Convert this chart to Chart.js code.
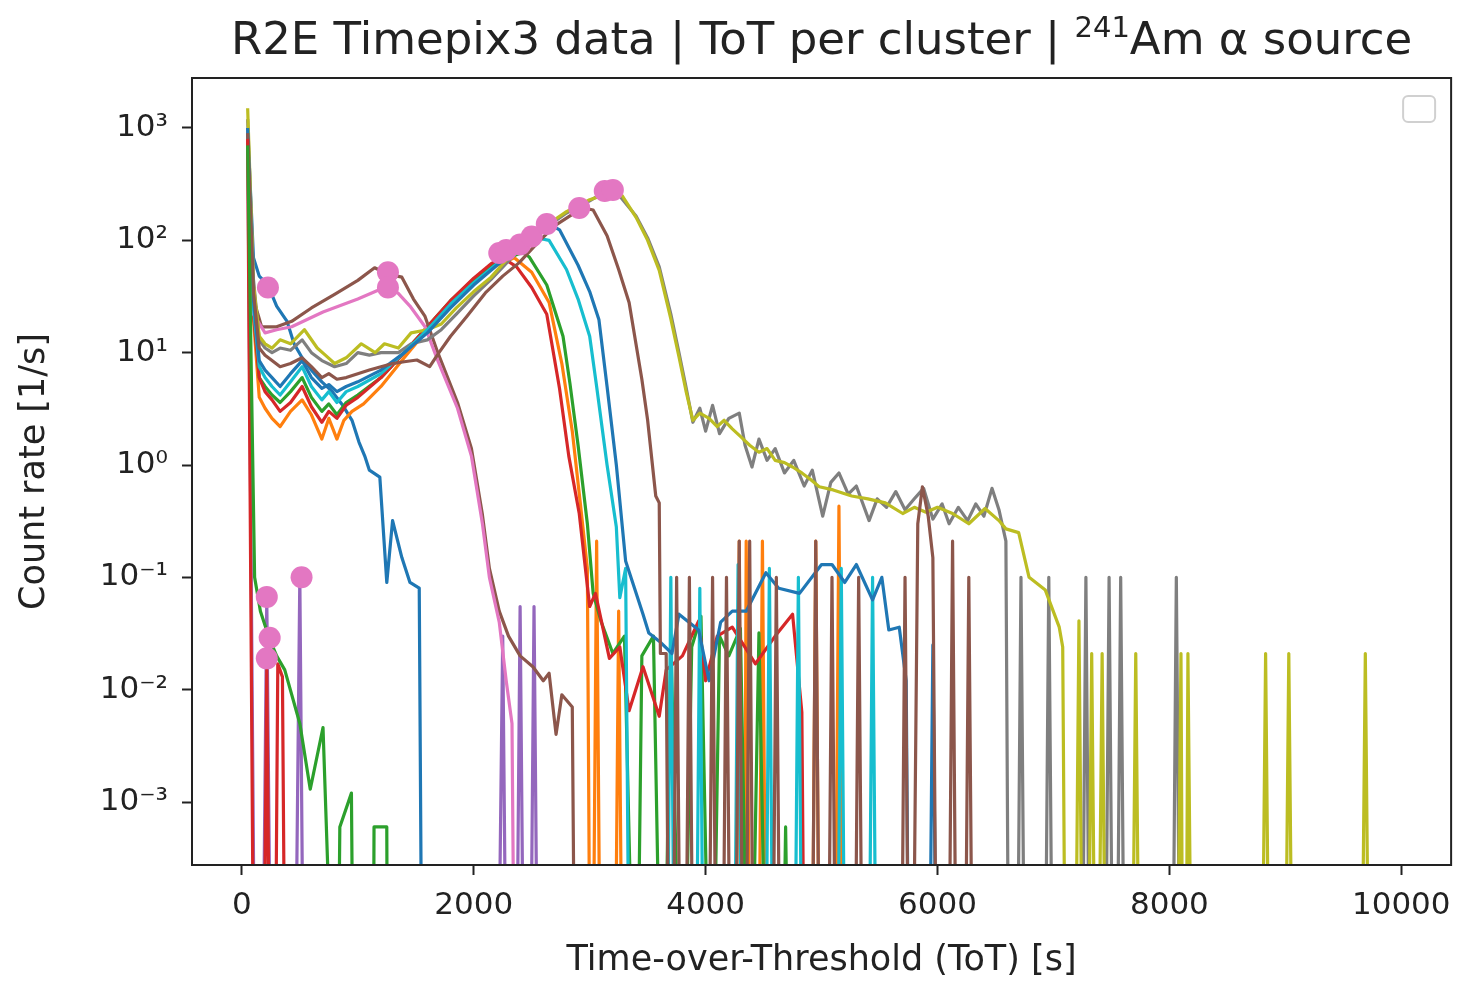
<!DOCTYPE html>
<html>
<head>
<meta charset="utf-8">
<script src="https://cdn.jsdelivr.net/npm/chart.js@4.4.1/dist/chart.umd.min.js"></script>
<style>
  html, body { margin: 0; padding: 0; background: #fff; }
  #wrap { width: 1463px; height: 982px; }
</style>
</head>
<body>
<div id="wrap"><canvas id="chart" width="1463" height="982"></canvas></div>
<script>
// ToT bins [s] -> count rate [1/s]; 0 = empty bin
const blueA = [[50,1000],[100,70],[150,48],[225,40],[300,26],[390,19],[450,12],[520,9],[600,7],[690,5.5],[780,4.5],[870,3.4],[950,2.5],[1010,1.6],[1060,1.2],[1100,0.9],[1190,0.78],[1250,0.09],[1300,0.32],[1380,0.15],[1450,0.09],[1530,0.08],[1560,0]];

const orange = [[50,900],[100,20],[150,4],[200,3.2],[260,2.6],[330,2.2],[420,3],[520,3.8],[600,2.8],[690,1.7],[750,2.6],[820,1.7],[880,2.5],[950,3],[1050,3.5],[1200,5],[1400,9],[1600,16],[1800,27],[2000,42],[2200,60],[2350,70],[2500,52],[2650,28],[2760,8],[2850,2],[2920,0.45],[2980,0.12],[3010,0]];
const orangeSpikeX = [3060, 3250, 4290, 4350, 4490, 4950, 5150];
const orangeSpikeY = [0.21, 0.05, 0.21, 0.21, 0.21, 0.21, 0.43];

const green = [[50,800],[100,25],[150,6],[200,5],[260,4.2],[330,3.6],[420,4.5],[520,6],[600,4],[690,3],[750,3.5],[820,2.8],[900,3.6],[1000,4.2],[1200,6],[1400,10],[1600,17],[1800,29],[2000,45],[2200,64],[2420,78],[2480,71],[2630,40],[2770,14],[2830,5.3],[2900,1.5],[2980,0.3],[3030,0.072],[3100,0.04],[3200,0.021],[3300,0.03],[3400,0],[3450,0.02],[3550,0.03],[3630,0],[3700,0.03],[3800,0],[3880,0.024],[3960,0.045],[4050,0],[4120,0.03],[4200,0.02],[4300,0.035],[4380,0],[4460,0.032],[4540,0]];
const greenSpikeX = [4690];
const greenSpikeY = [0.0006];

const red = [[50,900],[100,22],[150,6],[200,4.5],[260,3.8],[330,3],[420,3.6],[520,5],[600,3.3],[690,2.4],[750,3],[820,2.6],[900,3.4],[1000,4],[1200,6],[1400,10],[1600,17],[1800,29],[2000,46],[2150,62],[2250,70],[2370,58],[2500,38],[2630,22],[2740,4.8],[2820,1.2],[2910,0.37],[3000,0.055],[3050,0.072],[3170,0.019],[3260,0.024],[3340,0.0065],[3460,0.016],[3600,0.0058],[3660,0.015],[3800,0.02],[3940,0.041],[4000,0.012],[4100,0.03],[4230,0.036],[4430,0.017],[4600,0.03],[4750,0.047],[4830,0.0063],[4860,0]];

const purple = [[50,1000],[120,0],[170,0],[215,0.065],[260,0],[450,0],[500,0.1],[540,0],[2200,0],[2250,0.03],[2290,0],[2360,0],[2400,0.055],[2440,0],[2480,0],[2520,0.055],[2560,0]];

const brownHump = [[50,900],[100,30],[170,17],[300,17],[430,19],[600,25],[800,33],[1000,44],[1145,57],[1260,50],[1380,47],[1480,30],[1580,21],[1690,10],[1860,3.6],[1980,1.4],[2075,0.36],[2135,0.12],[2220,0.05],[2300,0.03],[2400,0.02],[2510,0.016],[2600,0.012],[2650,0.014],[2710,0.004],[2760,0.009],[2850,0.007],[2880,0]];

const pinkHump = [[50,600],[100,22],[200,15],[300,16],[430,17],[700,23],[1000,30],[1230,38],[1345,34],[1450,26],[1580,17],[1690,8.5],[1860,3.2],[1980,1.2],[2075,0.3],[2135,0.1],[2220,0.04],[2280,0.012],[2330,0.005],[2360,0]];

const gray = [[50,1200],[100,45],[150,13],[200,11],[260,10],[330,11],[420,10.5],[520,13],[600,10],[690,8.5],[800,7.5],[900,8],[1000,10],[1100,9.5],[1200,10],[1350,10],[1460,12],[1600,13],[1720,16],[1850,22],[2000,32],[2150,45],[2380,80],[2600,125],[2800,175],[3000,225],[3130,270],[3250,255],[3400,165],[3500,105],[3600,58],[3700,22],[3770,10],[3830,5],[3890,2.4],[3950,3.2],[4000,2],[4060,3.4],[4120,1.9],[4200,2.6],[4290,2.9],[4340,1.5],[4400,0.96],[4460,1.7],[4530,1.1],[4600,1.4],[4680,0.85],[4760,1.1],[4850,0.65],[4920,0.9],[5010,0.35],[5080,0.7],[5150,0.85],[5230,0.55],[5300,0.65],[5410,0.32],[5480,0.5],[5560,0.42],[5640,0.58],[5720,0.4],[5800,0.5],[5880,0.62],[5960,0.33],[6040,0.45],[6100,0.3],[6180,0.42],[6260,0.32],[6330,0.45],[6400,0.35],[6470,0.62],[6530,0.4],[6590,0.21],[6620,0]];
const graySpikeX = [6720, 6960, 7280, 7480, 7580, 8060];
const graySpikeY = [0.1, 0.1, 0.1, 0.1, 0.1, 0.1];

const olive = [[50,1500],[100,40],[150,14],[200,12],[260,11],[330,13],[420,12],[540,16],[650,11],[720,9.5],[800,8],[900,9],[1030,12],[1150,10],[1230,12],[1350,11],[1460,15],[1600,16],[1720,18],[1850,25],[2000,35],[2150,47],[2380,87],[2600,130],[2800,180],[3000,230],[3200,270],[3280,250],[3400,160],[3500,100],[3600,54],[3700,20],[3770,9.2],[3830,4.6],[3890,2.5],[3950,2.9],[4030,2.6],[4100,2.2],[4160,2.5],[4230,2.1],[4300,1.8],[4380,1.5],[4460,1.3],[4530,1.4],[4600,1.1],[4680,1.05],[4750,0.96],[4830,0.85],[4900,0.75],[4980,0.64],[5100,0.6],[5260,0.53],[5400,0.5],[5550,0.46],[5700,0.37],[5800,0.42],[5900,0.38],[6000,0.42],[6130,0.37],[6270,0.3],[6410,0.41],[6530,0.32],[6590,0.27],[6700,0.25],[6790,0.1],[6930,0.077],[7050,0.036],[7080,0.024],[7110,0]];
const oliveSpikeX = [7220, 7330, 7420, 7710, 8100, 8160, 8830, 9030, 9690];
const oliveSpikeY = [0.041, 0.021, 0.021, 0.021, 0.021, 0.021, 0.021, 0.021, 0.021];

const cyan = [[50,900],[100,25],[150,7.5],[200,6],[260,5],[330,4.2],[420,5.5],[520,7.5],[600,5],[690,3.8],[750,4.5],[820,3.6],[900,4.5],[1000,5],[1200,6.5],[1400,10],[1600,16],[1800,27],[2000,42],[2200,62],[2400,85],[2550,105],[2650,100],[2800,55],[2900,30],[3000,14],[3060,5],[3150,1],[3230,0.28],[3260,0.066],[3310,0.12],[3350,0]];
const cyanSpikeX = [3700, 3950, 4280, 4550, 4800, 5170, 5440];
const cyanSpikeY = [0.1, 0.08, 0.13, 0.12, 0.1, 0.12, 0.1];

const blueB = [[50,1000],[100,30],[150,8.5],[200,7],[260,6],[330,5],[420,6.5],[520,8.5],[600,6],[690,4.8],[750,5.2],[820,4.5],[900,5],[1000,5.5],[1200,7],[1400,10],[1600,15],[1800,25],[2000,40],[2200,60],[2400,85],[2600,135],[2650,140],[2740,124],[2900,60],[3000,35],[3080,19.6],[3150,5],[3230,1],[3310,0.14],[3460,0.047],[3510,0.032],[3600,0.027],[3710,0.021],[3770,0.047],[3940,0.034],[4030,0.012],[4130,0.04],[4230,0.05],[4350,0.05],[4520,0.11],[4630,0.08],[4810,0.072],[5000,0.13],[5090,0.13],[5200,0.09],[5300,0.13],[5440,0.063],[5520,0.1],[5580,0.034],[5670,0.036],[5730,0.012],[5760,0]];
const blueBSpikeX = [5960];
const blueBSpikeY = [0.025];

const brownB = [[50,900],[100,35],[150,11],[200,9.5],[260,8.5],[330,7.5],[420,8],[520,9],[600,7.5],[690,6],[750,6.5],[820,5.8],[900,6],[1000,6.5],[1100,7],[1200,7.5],[1300,8],[1400,8.3],[1510,8.6],[1620,7.5],[1700,10],[1800,14],[1940,21],[2100,34],[2250,48],[2390,63],[2550,95],[2700,135],[2850,170],[2950,194],[3030,186],[3150,110],[3250,55],[3340,28],[3450,5.8],[3500,2.5],[3570,0.53],[3600,0.46],[3610,0.021],[3660,0.021],[3690,0],[5780,0],[5830,0.3],[5870,0.64],[5920,0.35],[5960,0.15],[6000,0]];
const brownBSpikeX = [3750, 3860, 4060, 4180, 4290, 4380, 4610, 4950, 5090, 5320, 5720, 6130, 6270];
const brownBSpikeY = [0.1, 0.1, 0.1, 0.1, 0.21, 0.21, 0.1, 0.21, 0.1, 0.1, 0.1, 0.21, 0.1];

const redB = [[50,800],[110,0],[180,0],[215,0.015],[250,0],[280,0],[310,0.017],[350,0.013],[380,0]];

const greenB = [[50,700],[110,0.1],[160,0.05],[240,0.028],[300,0.02],[370,0.015],[500,0.005],[590,0.0013],[700,0.0046],[820,0],[845,0.0006],[945,0.0012],[970,0],[1130,0],[1140,0.0006],[1250,0.0006],[1260,0]];

// peak markers
const peakX = [225, 1260, 1260, 2220, 2280, 2400, 2500, 2630, 2910, 3130, 3200, 215, 240, 215, 515];
const peakY = [38, 52, 38, 77, 82, 92, 108, 140, 194, 275, 280, 0.067, 0.029, 0.019, 0.1];

const xTicks = [0, 2000, 4000, 6000, 8000, 10000];
const yTicks = [1e-3, 1e-2, 1e-1, 1e0, 1e1, 1e2, 1e3];
const yTickLabels = ["10\u207B\u00B3", "10\u207B\u00B2", "10\u207B\u00B9", "10\u2070", "10\u00B9", "10\u00B2", "10\u00B3"];

const FLOOR = 1e-6;   // empty bins drop below the axis like matplotlib's log clip
const SPIKE_HALF = 40;

function toPoints(curve, spikeX, spikeY) {
  const pts = curve.map(p => ({ x: p[0], y: p[1] > 0 ? p[1] : FLOOR }));
  (spikeX || []).forEach((x, i) => {
    pts.push({ x: x - SPIKE_HALF, y: FLOOR }, { x: x, y: spikeY[i] }, { x: x + SPIKE_HALF, y: FLOOR });
  });
  return pts.sort((a, b) => a.x - b.x);
}

const series = [
  { color: "#1f77b4", pts: toPoints(blueA) },
  { color: "#ff7f0e", pts: toPoints(orange, orangeSpikeX, orangeSpikeY) },
  { color: "#2ca02c", pts: toPoints(green, greenSpikeX, greenSpikeY) },
  { color: "#d62728", pts: toPoints(red) },
  { color: "#9467bd", pts: toPoints(purple) },
  { color: "#8c564b", pts: toPoints(brownHump) },
  { color: "#e377c2", pts: toPoints(pinkHump) },
  { color: "#7f7f7f", pts: toPoints(gray, graySpikeX, graySpikeY) },
  { color: "#bcbd22", pts: toPoints(olive, oliveSpikeX, oliveSpikeY) },
  { color: "#17becf", pts: toPoints(cyan, cyanSpikeX, cyanSpikeY) },
  { color: "#1f77b4", pts: toPoints(blueB, blueBSpikeX, blueBSpikeY) },
  { color: "#8c564b", pts: toPoints(brownB, brownBSpikeX, brownBSpikeY) },
  { color: "#d62728", pts: toPoints(redB) },
  { color: "#2ca02c", pts: toPoints(greenB) }
];

const datasets = series.map((s, i) => ({
  data: s.pts,
  borderColor: s.color,
  borderWidth: 3.2,
  borderJoinStyle: "round",
  pointRadius: 0,
  fill: false,
  tension: 0,
  clip: 0,
  order: -i
}));

datasets.push({
  data: peakX.map((x, i) => ({ x: x, y: peakY[i] })),
  showLine: false,
  pointRadius: 11,
  pointBackgroundColor: "#e377c2",
  pointBorderWidth: 0,
  clip: 0,
  order: -100
});

const TEXT = "#222";
const FONT = "DejaVu Sans";
Chart.defaults.font.family = FONT;

// title with a real raised superscript, centred on the axes like matplotlib
const titlePlugin = {
  id: "axTitle",
  afterDraw(chart) {
    const { ctx, chartArea: a } = chart;
    const parts = [
      { t: "R2E Timepix3 data | ToT per cluster | ", size: 45, rise: 0 },
      { t: "241", size: 29, rise: 17 },
      { t: "Am \u03B1 source", size: 45, rise: 0 }
    ];
    ctx.save();
    ctx.fillStyle = TEXT;
    ctx.textBaseline = "alphabetic";
    let total = 0;
    parts.forEach(p => { ctx.font = p.size + "px " + FONT; p.w = ctx.measureText(p.t).width; total += p.w; });
    let x = (a.left + a.right) / 2 - total / 2;
    const base = 54;
    parts.forEach(p => {
      ctx.font = p.size + "px " + FONT;
      ctx.fillText(p.t, x, base - p.rise);
      x += p.w;
    });
    ctx.restore();
  }
};

// frame round the axes + the empty legend box
const framePlugin = {
  id: "frame",
  afterDatasetsDraw(chart) {
    const { ctx, chartArea: a } = chart;
    ctx.save();
    ctx.strokeStyle = TEXT;
    ctx.lineWidth = 2;
    ctx.strokeRect(a.left, a.top, a.right - a.left, a.bottom - a.top);
    const bx = a.right - 48, by = a.top + 18, bw = 32, bh = 26, r = 5;
    ctx.strokeStyle = "#d0d0d0";
    ctx.lineWidth = 2;
    ctx.beginPath();
    ctx.roundRect(bx, by, bw, bh, r);
    ctx.fillStyle = "rgba(255,255,255,0.8)";
    ctx.fill();
    ctx.stroke();
    ctx.restore();
  }
};

new Chart(document.getElementById("chart"), {
  type: "line",
  data: { datasets: datasets },
  options: {
    responsive: false,
    animation: false,
    devicePixelRatio: 1,
    layout: { padding: { left: 0, right: 10, top: 78, bottom: 0 } },
    plugins: {
      legend: { display: false },
      tooltip: { enabled: false },
      title: { display: false }
    },
    scales: {
      x: {
        type: "linear",
        min: -430,
        max: 10430,
        afterBuildTicks: s => { s.ticks = xTicks.map(v => ({ value: v })); },
        afterFit: s => { s.height = 117; },
        ticks: { color: TEXT, font: { size: 31 }, padding: 12, maxRotation: 0, autoSkip: false, callback: v => String(v) },
        grid: { display: true, drawOnChartArea: false, drawTicks: true, tickLength: 10, tickWidth: 2, tickColor: TEXT },
        border: { display: true, color: TEXT, width: 2 },
        title: { display: true, text: "Time-over-Threshold (ToT) [s]", color: TEXT, font: { size: 35 }, padding: { top: 4, bottom: 0 } }
      },
      y: {
        type: "logarithmic",
        min: 2.75e-4,
        max: 2786,
        afterBuildTicks: s => { s.ticks = yTicks.map(v => ({ value: v, major: true })); },
        afterFit: s => { s.width = 192; },
        ticks: { color: TEXT, font: { size: 31 }, padding: 14, autoSkip: false, callback: (v, i) => yTickLabels[i] },
        grid: { display: true, drawOnChartArea: false, drawTicks: true, tickLength: 10, tickWidth: 2, tickColor: TEXT },
        border: { display: true, color: TEXT, width: 2 },
        title: { display: true, text: "Count rate [1/s]", color: TEXT, font: { size: 35 }, padding: { top: 14, bottom: 0 } }
      }
    }
  },
  plugins: [framePlugin, titlePlugin]
});
</script>
</body>
</html>
